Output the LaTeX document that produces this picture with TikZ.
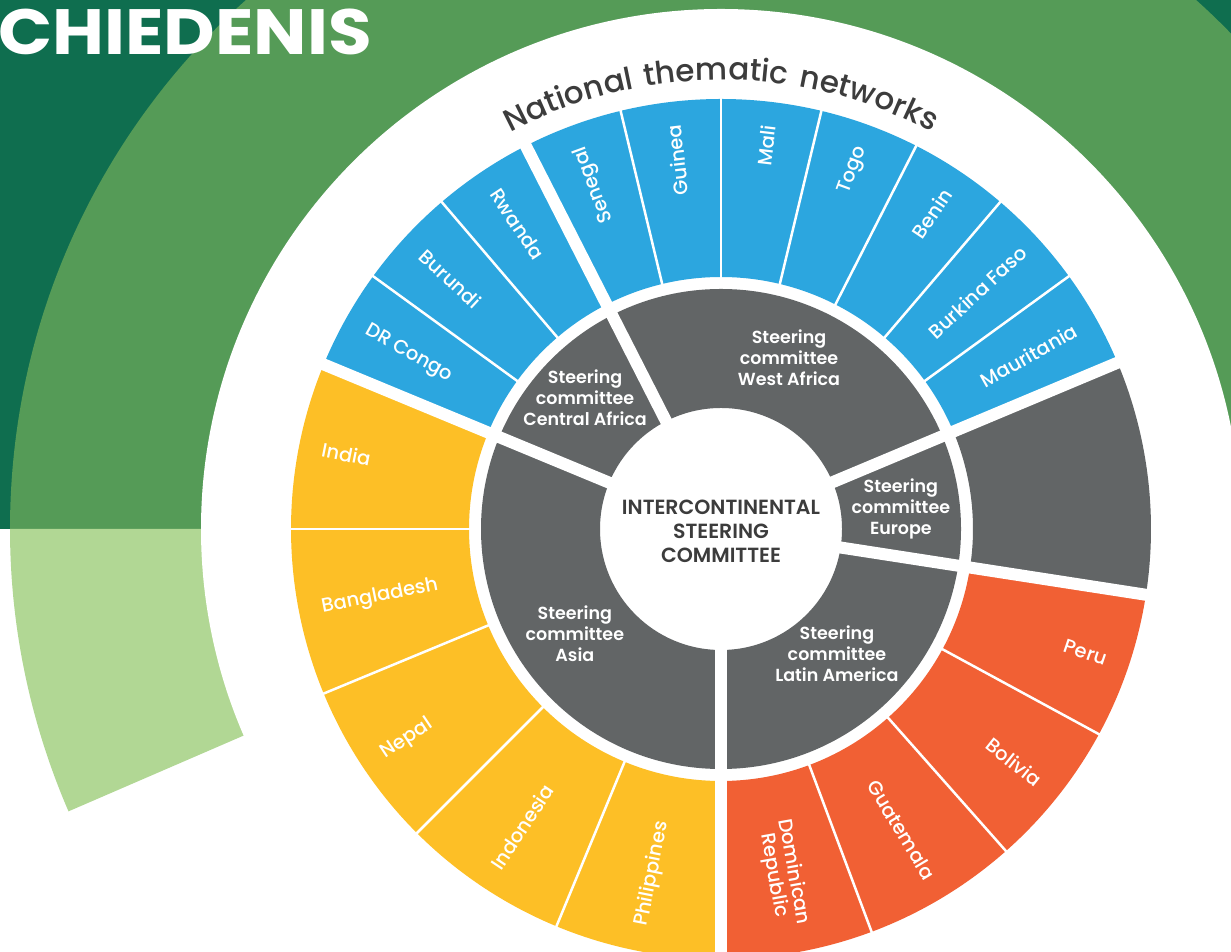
\documentclass[tikz,border=0pt]{standalone}
\usepackage{fontspec}
\setmainfont{Poppins}[BoldFont={Poppins SemiBold}]
\newfontfamily\titlefont{Poppins Bold}[FakeStretch=1.11]
\newfontfamily\labelfont{Poppins Medium}
\newfontfamily\arcfont{Poppins Medium}[LetterSpace=10]
\usetikzlibrary{decorations.text}

\definecolor{darkgreen}{HTML}{0F6E4F}
\definecolor{midgreen}{HTML}{559B57}
\definecolor{lightgreen}{HTML}{B1D794}
\definecolor{netblue}{HTML}{2CA6DF}
\definecolor{netgray}{HTML}{626566}
\definecolor{netyellow}{HTML}{FDBF26}
\definecolor{netorange}{HTML}{F16034}
\definecolor{textgray}{HTML}{3C3C3C}

\tikzstyle{country} = [text=white, inner sep=0pt, font=\labelfont\fontsize{19.5}{20}\selectfont]
\tikzstyle{committee} = [text=white, align=center, inner sep=0pt, font=\bfseries\fontsize{17.5}{21}\selectfont]
\tikzstyle{gap} = [white, line width=12pt]
\tikzstyle{divider} = [white, line width=2.5pt]

% ring part: colour, from angle, to angle, inner radius, outer radius
\newcommand{\ringpart}[5]{\fill[#1] (#2:#4pt) arc[start angle=#2, end angle=#3, radius=#4pt] -- (#3:#5pt) arc[start angle=#3, end angle=#2, radius=#5pt] -- cycle;}

\begin{document}
\begin{tikzpicture}[x=1pt, y=1pt]
	\useasboundingbox (0,0) rectangle (1231,952);

	% Background
	\fill[darkgreen] (0,423) rectangle (1231,952);

	\begin{scope}[shift={(721,423)}]
	\ringpart{midgreen}{0}{180}{519}{711}
	\ringpart{lightgreen}{180}{203.4}{519}{711}
	\fill[white] (0,0) circle[radius=520pt];

	% Committees ring
	\ringpart{netgray}{0}{360}{121}{240}

	% Networks ring
	\ringpart{netblue}{117}{157.5}{252}{430}
	\ringpart{netblue}{22.75}{117}{252}{430}
	\ringpart{netyellow}{157.5}{270}{252}{430}
	\ringpart{netorange}{270}{351.2}{252}{430}
	\ringpart{netgray}{351.2}{382.75}{252}{430}

	% Gaps between regions
	\draw[gap] (0,0) -- (157.5:436pt);
	\draw[gap] (0,0) -- (117:436pt);
	\draw[gap] (0,0) -- (22.75:436pt);
	\draw[gap] (0,0) -- (351.2:436pt);
	\draw[gap] (0,0) -- (270:436pt);

	% Dividers between countries
	\draw[divider] (144:250pt) -- (144:432pt);
	\draw[divider] (130.5:250pt) -- (130.5:432pt);
	\draw[divider] (103.5:250pt) -- (103.5:432pt);
	\draw[divider] (90:250pt) -- (90:432pt);
	\draw[divider] (76.5:250pt) -- (76.5:432pt);
	\draw[divider] (63:250pt) -- (63:432pt);
	\draw[divider] (49.5:250pt) -- (49.5:432pt);
	\draw[divider] (36:250pt) -- (36:432pt);
	\draw[divider] (180:250pt) -- (180:432pt);
	\draw[divider] (202.5:250pt) -- (202.5:432pt);
	\draw[divider] (225:250pt) -- (225:432pt);
	\draw[divider] (247.5:250pt) -- (247.5:432pt);
	\draw[divider] (290.5:250pt) -- (290.5:432pt);
	\draw[divider] (311.5:250pt) -- (311.5:432pt);
	\draw[divider] (331.5:250pt) -- (331.5:432pt);

	% Centre
	\node (intercontinental) [align=center, text=textgray, inner sep=0pt, font=\bfseries\fontsize{20.5}{24}\selectfont] at (0,-2) {INTERCONTINENTAL\\STEERING\\COMMITTEE};

	% Steering committees
	\node (westafrica) [committee] at (68.3:184pt) {Steering\\committee\\West Africa};
	\node (centralafrica) [committee] at (136:189pt) {Steering\\committee\\Central Africa};
	\node (europe) [committee] at (6.3:181pt) {Steering\\committee\\Europe};
	\node (asia) [committee] at (215.7:180pt) {Steering\\committee\\Asia};
	\node (latinamerica) [committee] at (313:170pt) {Steering\\committee\\Latin America};

	% Central Africa
	\node (drcongo) [country, anchor=west, rotate=-29.25] at (150.75:407pt) {DR Congo};
	\node (burundi) [country, anchor=west, rotate=-42.75] at (137.25:407pt) {Burundi};
	\node (rwanda) [country, anchor=west, rotate=-56.25] at (123.75:407pt) {Rwanda};

	% West Africa
	\node (senegal) [country, anchor=east, rotate=110.25] at (110.25:407pt) {Senegal};
	\node (guinea) [country, anchor=east, rotate=96.75] at (96.75:407pt) {Guinea};
	\node (mali) [country, anchor=east, rotate=83.25] at (83.25:407pt) {Mali};
	\node (togo) [country, anchor=east, rotate=69.75] at (69.75:407pt) {Togo};
	\node (benin) [country, anchor=east, rotate=56.25] at (56.25:407pt) {Benin};
	\node (burkinafaso) [country, anchor=east, rotate=42.75] at (42.75:412pt) {Burkina Faso};
	\node (mauritania) [country, anchor=east, rotate=29.4] at (29.4:407pt) {Mauritania};

	% Asia
	\node (india) [country, anchor=west, rotate=-11.25] at (168.75:407pt) {India};
	\node (bangladesh) [country, anchor=west, rotate=11.25] at (191.25:407pt) {Bangladesh};
	\node (nepal) [country, anchor=west, rotate=33.75] at (213.75:407pt) {Nepal};
	\node (indonesia) [country, anchor=west, rotate=56.25] at (236.25:407pt) {Indonesia};
	\node (philippines) [country, anchor=west, rotate=78.75] at (258.75:405pt) {Philippines};

	% Latin America
	\node (dominican) [country, anchor=east, align=center, rotate=280.25] at (280.25:404pt) {Dominican\\Republic};
	\node (guatemala) [country, anchor=east, rotate=301] at (301:407pt) {Guatemala};
	\node (bolivia) [country, anchor=east, rotate=321.5] at (321.5:407pt) {Bolivia};
	\node (peru) [country, anchor=east, rotate=341.3] at (341.3:407pt) {Peru};

	% Arc title
	\path[decorate, decoration={text along path, text align=center, text color=textgray,
		text={|\arcfont\fontsize{31}{31}\selectfont|National thematic networks}}]
		(150:449pt) arc[start angle=150, end angle=30, radius=449pt];
	\end{scope}

	% Page title
	\node (title) [anchor=base west, inner sep=0pt, text=white, font=\titlefont\fontsize{64}{64}\selectfont] at (-2,897) {CHIEDENIS};

\end{tikzpicture}
\end{document}
